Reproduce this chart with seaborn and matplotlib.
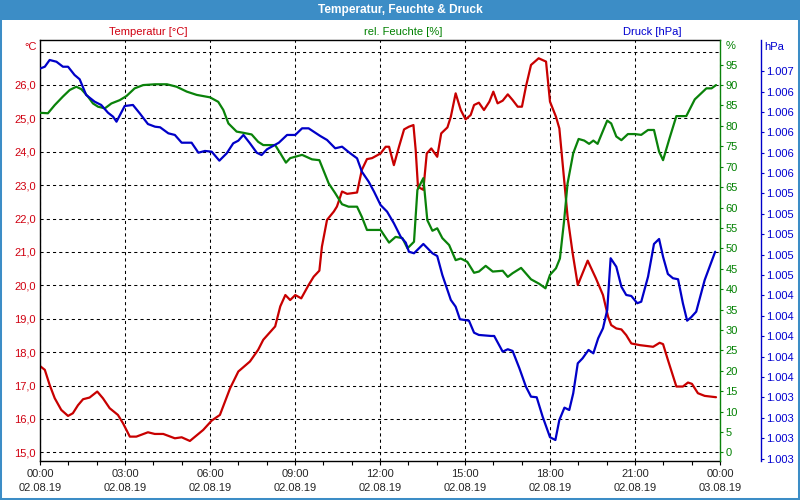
import matplotlib
matplotlib.use("Agg")
import matplotlib.pyplot as plt
import seaborn as sns
import pandas as pd
from matplotlib.patches import Rectangle

# ---------------- data ----------------
temp_hours = [0.02,0.17,0.34,0.52,0.75,0.99,1.16,1.34,1.52,1.75,
              2.02,2.22,2.46,2.75,2.93,3.17,3.40,3.81,4.05,4.35,
              4.76,5.00,5.29,5.76,6.06,6.35,6.71,7.00,7.41,7.70,
              7.88,8.30,8.48,8.66,8.83,9.01,9.22,9.48,9.66,9.86,
              9.95,10.13,10.37,10.48,10.66,10.84,11.19,11.36,11.54,11.72,
              12.02,12.20,12.32,12.49,12.67,12.85,13.02,13.18,13.26,13.34,
              13.53,13.65,13.81,14.02,14.16,14.38,14.50,14.67,14.85,15.02,
              15.20,15.32,15.49,15.67,15.86,16.00,16.15,16.33,16.51,16.68,
              16.86,17.01,17.15,17.33,17.60,17.86,18.00,18.21,18.33,18.62,
              18.80,18.98,19.33,19.62,19.87,20.05,20.16,20.34,20.52,20.69,
              20.87,21.17,21.64,21.87,21.99,22.16,22.46,22.69,22.87,23.01,
              23.22,23.46,23.86]
temp_values = [17.57,17.47,17.02,16.62,16.27,16.09,16.17,16.41,16.59,16.64,
               16.82,16.62,16.32,16.12,15.87,15.47,15.47,15.60,15.55,15.55,
               15.42,15.45,15.34,15.67,15.95,16.12,16.92,17.42,17.72,18.07,
               18.37,18.77,19.37,19.71,19.56,19.71,19.61,20.01,20.26,20.44,
               21.16,21.96,22.21,22.36,22.81,22.74,22.78,23.46,23.78,23.81,
               23.95,24.15,24.15,23.60,24.15,24.67,24.75,24.80,24.05,22.95,
               22.86,23.95,24.10,23.85,24.55,24.73,25.05,25.75,25.25,24.97,
               25.10,25.40,25.47,25.25,25.50,25.80,25.45,25.53,25.72,25.55,
               25.35,25.35,25.95,26.60,26.80,26.70,25.50,25.05,24.70,22.06,
               20.96,20.01,20.74,20.21,19.71,19.06,18.81,18.71,18.68,18.51,
               18.26,18.21,18.16,18.28,18.24,17.77,16.97,16.97,17.09,17.05,
               16.77,16.69,16.65]

hum_hours = [0.02,0.28,0.52,0.81,1.05,1.28,1.46,1.69,1.87,2.05,
             2.29,2.52,2.81,3.05,3.34,3.64,4.06,4.48,4.82,5.18,
             5.53,6.00,6.29,6.47,6.65,6.94,7.18,7.47,7.70,7.88,
             8.30,8.48,8.68,8.83,9.25,9.60,9.86,10.19,10.42,10.66,
             10.89,11.19,11.36,11.54,12.02,12.32,12.55,12.79,12.97,13.20,
             13.32,13.53,13.67,13.85,14.02,14.20,14.44,14.67,14.85,15.08,
             15.32,15.49,15.73,15.98,16.33,16.51,16.68,16.98,17.33,17.62,
             17.84,18.00,18.21,18.35,18.50,18.62,18.82,19.01,19.21,19.38,
             19.53,19.68,19.87,20.02,20.16,20.34,20.52,20.75,20.99,21.22,
             21.46,21.67,21.85,21.99,22.22,22.46,22.81,23.11,23.52,23.70,
             23.86]
hum_values = [83.2,83.1,85.1,87.2,88.8,89.6,89.0,87.2,85.5,84.7,
              84.3,85.5,86.3,87.3,89.2,90.0,90.2,90.2,89.6,88.4,
              87.6,87.0,85.9,83.9,80.6,78.6,78.3,77.9,76.1,75.3,
              75.3,73.3,71.0,72.1,72.9,71.8,71.6,65.9,63.5,60.8,
              60.2,60.2,57.7,54.5,54.5,51.4,52.8,52.5,50.0,51.6,
              64.3,67.2,56.9,54.3,54.9,52.5,50.8,47.1,47.5,46.7,
              44.0,44.3,45.7,44.3,44.5,43.0,43.9,45.2,42.4,41.3,
              40.2,43.5,45.1,47.5,56.9,65.9,73.3,76.8,76.4,75.6,
              76.4,75.6,78.8,81.3,80.6,77.4,76.5,78.0,78.0,77.8,
              79.0,79.0,73.7,71.6,77.0,82.4,82.4,86.5,89.2,89.2,
              90.0]

pres_hours = [0.02,0.17,0.34,0.58,0.81,0.99,1.22,1.40,1.63,1.93,
              2.16,2.40,2.58,2.70,2.99,3.28,3.52,3.81,4.06,4.24,
              4.53,4.76,5.00,5.35,5.59,5.82,6.06,6.33,6.59,6.82,
              7.00,7.18,7.41,7.65,7.82,8.01,8.43,8.72,9.01,9.25,
              9.48,9.89,10.13,10.42,10.66,10.95,11.19,11.36,11.60,11.79,
              12.02,12.25,12.49,12.73,12.91,13.02,13.20,13.53,13.85,14.02,
              14.20,14.50,14.67,14.82,15.14,15.32,15.49,15.92,16.03,16.33,
              16.51,16.68,16.92,17.15,17.33,17.53,17.74,18.00,18.19,18.33,
              18.51,18.68,18.82,18.98,19.15,19.36,19.53,19.70,19.87,20.02,
              20.14,20.34,20.52,20.69,20.87,21.08,21.22,21.46,21.67,21.85,
              21.99,22.16,22.34,22.52,22.69,22.84,22.98,23.16,23.46,23.83]
pres_values = [1006.527,1006.543,1006.609,1006.592,1006.543,1006.543,1006.462,1006.420,1006.266,1006.200,
               1006.168,1006.092,1006.053,1006.004,1006.158,1006.168,1006.086,1005.981,1005.955,1005.949,
               1005.890,1005.874,1005.798,1005.798,1005.700,1005.717,1005.710,1005.622,1005.694,1005.792,
               1005.818,1005.874,1005.792,1005.700,1005.677,1005.733,1005.798,1005.874,1005.874,1005.939,
               1005.939,1005.864,1005.825,1005.743,1005.759,1005.694,1005.645,1005.514,1005.416,1005.318,
               1005.187,1005.122,1005.008,1004.876,1004.818,1004.729,1004.714,1004.805,1004.714,1004.687,
               1004.501,1004.256,1004.190,1004.067,1004.053,1003.935,1003.913,1003.903,1003.903,1003.749,
               1003.773,1003.756,1003.586,1003.406,1003.308,1003.302,1003.112,1002.910,1002.883,1003.079,
               1003.200,1003.177,1003.341,1003.635,1003.684,1003.766,1003.733,1003.880,1003.978,1004.158,
               1004.665,1004.582,1004.386,1004.305,1004.295,1004.224,1004.239,1004.484,1004.805,1004.854,
               1004.680,1004.511,1004.469,1004.459,1004.224,1004.053,1004.086,1004.141,1004.452,1004.729]

x_ticks = [0, 3, 6, 9, 12, 15, 18, 21, 24]
x_tick_labels = ["00:00\n02.08.19", "03:00\n02.08.19", "06:00\n02.08.19",
                 "09:00\n02.08.19", "12:00\n02.08.19", "15:00\n02.08.19",
                 "18:00\n02.08.19", "21:00\n02.08.19", "00:00\n03.08.19"]
temp_ticks = [15, 16, 17, 18, 19, 20, 21, 22, 23, 24, 25, 26, 27]
temp_tick_labels = ["15,0", "16,0", "17,0", "18,0", "19,0", "20,0", "21,0",
                    "22,0", "23,0", "24,0", "25,0", "26,0", ""]
hum_ticks = [0, 5, 10, 15, 20, 25, 30, 35, 40, 45, 50, 55, 60, 65, 70, 75, 80, 85, 90, 95]
pres_ticks = [1002.7, 1002.9, 1003.1, 1003.3, 1003.5, 1003.7, 1003.9, 1004.1,
              1004.3, 1004.5, 1004.7, 1004.9, 1005.1, 1005.3, 1005.5, 1005.7,
              1005.9, 1006.1, 1006.3, 1006.5]
pres_tick_labels = ["1.003"] * 4 + ["1.004"] * 5 + ["1.005"] * 5 + ["1.006"] * 5 + ["1.007"]

# ---------------- style ----------------
sns.set_style("white")
plt.rcParams['font.family'] = ['Liberation Sans', 'DejaVu Sans']

RED = "#c80000"
RED_T = "#d00010"
GREEN = "#0a820a"
GREEN_T = "#008000"
BLUE = "#0000c8"
BLUE_T = "#0000d0"
BAR = "#3c8dc6"
FS = 8

W, H = 800, 500
fig = plt.figure(figsize=(8, 5), dpi=100)
fig.patch.set_facecolor("white")

L, R, T, B = 40, 720, 40, 460.7
ax = fig.add_axes([L / W, 1 - B / H, (R - L) / W, (B - T) / H])
ax_h = ax.twinx()
ax_p = ax.twinx()
ax_p.spines["right"].set_position(("axes", (760.7 - L) / (R - L)))

df_t = pd.DataFrame({"h": temp_hours, "v": temp_values})
df_h = pd.DataFrame({"h": hum_hours, "v": hum_values})
df_p = pd.DataFrame({"h": pres_hours, "v": pres_values})

sns.lineplot(data=df_t, x="h", y="v", ax=ax, color=RED, linewidth=1.6,
             estimator=None, sort=False)
sns.lineplot(data=df_h, x="h", y="v", ax=ax_h, color=GREEN, linewidth=1.6,
             estimator=None, sort=False)
sns.lineplot(data=df_p, x="h", y="v", ax=ax_p, color=BLUE, linewidth=1.6,
             estimator=None, sort=False)

for a in (ax, ax_h, ax_p):
    a.set_xlabel("")
    a.set_ylabel("")

# x axis
ax.set_xlim(0, 24)
ax.set_xticks(x_ticks)
ax.set_xticklabels(x_tick_labels, fontsize=FS, linespacing=1.45)
ax.set_xticks(list(range(25)), minor=True)
ax.tick_params(axis="x", which="both", direction="out", length=3, width=0.8,
               color="black", pad=3, bottom=True)

# temperature axis
ax.set_ylim(14.749, 27.347)
ax.set_yticks(temp_ticks)
ax.set_yticklabels(temp_tick_labels, fontsize=FS, color=RED_T)
ax.tick_params(axis="y", length=0, pad=3)

# grid
ax.set_axisbelow(True)
ax.grid(True, which="major", color="black", linestyle=(0, (3, 3)), linewidth=0.75)

# humidity axis
ax_h.set_ylim(-2.05, 101.05)
ax_h.set_yticks(hum_ticks)
ax_h.set_yticklabels([str(v) for v in hum_ticks], fontsize=FS, color=GREEN_T)
ax_h.tick_params(axis="y", direction="out", length=2.5, width=0.8, color=GREEN, pad=1.5)

# pressure axis
ax_p.set_ylim(1002.680, 1006.805)
ax_p.set_yticks(pres_ticks)
ax_p.set_yticklabels(pres_tick_labels, fontsize=FS, color=BLUE_T)
ax_p.tick_params(axis="y", direction="out", length=2.5, width=0.8, color=BLUE, pad=1.2)

# spines
for s in ("top", "bottom", "left"):
    ax.spines[s].set_color("black")
    ax.spines[s].set_linewidth(1.0)
    ax.spines[s].set_visible(True)
ax.spines["right"].set_visible(False)
for s in ("top", "bottom", "left"):
    ax_h.spines[s].set_visible(False)
    ax_p.spines[s].set_visible(False)
ax_h.spines["right"].set_color(GREEN)
ax_h.spines["right"].set_linewidth(1.0)
ax_p.spines["right"].set_color(BLUE)
ax_p.spines["right"].set_linewidth(1.0)

# title bar and frame
fig.patches.append(Rectangle((0, 1 - 20 / H), 1, 20 / H, transform=fig.transFigure,
                             facecolor=BAR, edgecolor="none", zorder=0))
fig.patches.append(Rectangle((0, 0), 1, 1, transform=fig.transFigure,
                             facecolor="none", edgecolor=BAR, linewidth=2.9, zorder=5))
fig.text(0.5, 1 - 10.5 / H, "Temperatur, Feuchte & Druck", color="white",
         fontsize=8.6, fontweight="bold", ha="center", va="center")

# series headers
fig.text(148 / W, 1 - 32 / H, "Temperatur [°C]", color=RED_T, fontsize=FS,
         ha="center", va="center")
fig.text(403 / W, 1 - 32 / H, "rel. Feuchte [%]", color=GREEN_T, fontsize=FS,
         ha="center", va="center")
fig.text(652 / W, 1 - 32 / H, "Druck [hPa]", color=BLUE_T, fontsize=FS,
         ha="center", va="center")

# unit labels
fig.text(37 / W, 1 - 46.5 / H, "°C", color=RED_T, fontsize=FS, ha="right", va="center")
fig.text(726 / W, 1 - 46 / H, "%", color=GREEN_T, fontsize=FS, ha="left", va="center")
fig.text(764 / W, 1 - 46.5 / H, "hPa", color=BLUE_T, fontsize=FS, ha="left", va="center")

fig.savefig("out.png", dpi=100, facecolor="white")
